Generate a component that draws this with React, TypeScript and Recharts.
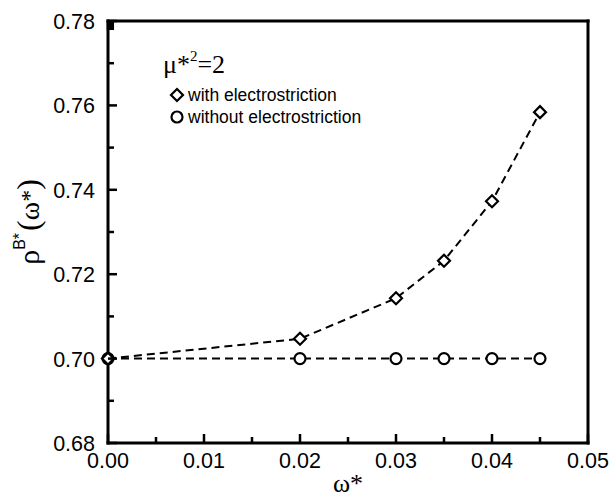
import React from "react";
import { LineChart, Line, XAxis, YAxis, Legend } from "recharts";

// reduced field strength values
const omega = [0, 0.02, 0.03, 0.035, 0.04, 0.045];
// bulk density with and without electrostriction
const withElectro = [0.7, 0.7047, 0.7143, 0.7232, 0.7373, 0.7584];
const withoutElectro = [0.7, 0.7, 0.7, 0.7, 0.7, 0.7];

const xTicks = [0, 0.005, 0.01, 0.015, 0.02, 0.025, 0.03, 0.035, 0.04, 0.045, 0.05];
const yTicks = [0.68, 0.69, 0.7, 0.71, 0.72, 0.73, 0.74, 0.75, 0.76, 0.77, 0.78];

const rows = omega.map((x, i) => ({
  x,
  withE: withElectro[i],
  withoutE: withoutElectro[i],
}));

const SANS = "'Liberation Sans', Arial, sans-serif";
const SERIF = "'Liberation Serif', 'Times New Roman', serif";

const onStep = (v: number, step: number) =>
  Math.abs(v / step - Math.round(v / step)) < 1e-6;

// inward-pointing ticks; labels only on bottom/left majors
const makeTick = (side: "bottom" | "top" | "left" | "right") => (props: any) => {
  const { x, y, payload } = props;
  const v = payload.value as number;
  const major = side === "bottom" || side === "top" ? onStep(v, 0.01) : onStep(v, 0.02);
  const len = major ? 9 : 6;
  let x2 = x;
  let y2 = y;
  if (side === "bottom") y2 = y - len;
  if (side === "top") y2 = y + len;
  if (side === "left") x2 = x + len;
  if (side === "right") x2 = x - len;
  return (
    <g>
      <line x1={x} y1={y} x2={x2} y2={y2} stroke="#000" strokeWidth={2.5} />
      {major && side === "bottom" && (
        <text x={x} y={y + 25} textAnchor="middle" fontFamily={SANS} fontSize={21.5} fill="#000">
          {v.toFixed(2)}
        </text>
      )}
      {major && side === "left" && (
        <text x={x - 13} y={y + 8} textAnchor="end" fontFamily={SANS} fontSize={21.5} fill="#000">
          {v.toFixed(2)}
        </text>
      )}
    </g>
  );
};

const Diamond = (props: any) => {
  const { cx, cy } = props;
  if (cx == null || cy == null) return <g />;
  const r = 6;
  return (
    <path
      d={`M${cx},${cy - r} L${cx + r},${cy} L${cx},${cy + r} L${cx - r},${cy} Z`}
      fill="#fff"
      stroke="#000"
      strokeWidth={2.2}
    />
  );
};

const Ring = (props: any) => {
  const { cx, cy } = props;
  if (cx == null || cy == null) return <g />;
  return <circle cx={cx} cy={cy} r={5.5} fill="#fff" stroke="#000" strokeWidth={2.2} />;
};

const YTitle = (props: any) => {
  const vb = props.viewBox;
  const cx = vb.x + 39;
  const cy = vb.y + vb.height / 2 - 10;
  return (
    <text
      x={cx}
      y={cy}
      transform={`rotate(-90, ${cx}, ${cy})`}
      textAnchor="middle"
      fill="#000"
    >
      <tspan fontFamily={SERIF} fontSize={30}>ρ</tspan>
      <tspan fontFamily={SANS} fontSize={16} dy={-14}>B*</tspan>
      <tspan fontFamily={SERIF} fontSize={32} dy={14} dx={2}>(</tspan>
      <tspan fontFamily={SERIF} fontSize={28}>ω</tspan>
      <tspan fontFamily={SERIF} fontSize={24} dy={-2}>*</tspan>
      <tspan fontFamily={SERIF} fontSize={32} dy={2}>)</tspan>
    </text>
  );
};

const XTitle = (props: any) => {
  const vb = props.viewBox;
  return (
    <text
      x={vb.x + vb.width / 2}
      y={vb.y + 49}
      textAnchor="middle"
      fontFamily={SERIF}
      fontSize={26}
      fill="#000"
    >
      ω*
    </text>
  );
};

const LegendBox = () => (
  <svg width={280} height={90} style={{ display: "block" }}>
    <text x={13} y={33} fontFamily={SERIF} fontSize={26} fill="#000">
      μ*
      <tspan fontSize={15} dy={-12}>2</tspan>
      <tspan dy={12}>=2</tspan>
    </text>
    <Diamond cx={27} cy={55} />
    <text x={38} y={61} fontFamily={SANS} fontSize={17.5} fill="#000">
      with electrostriction
    </text>
    <Ring cx={27} cy={77} />
    <text x={38} y={83} fontFamily={SANS} fontSize={17.5} fill="#000">
      without electrostriction
    </text>
  </svg>
);

const frame = { stroke: "#000", strokeWidth: 3, strokeLinecap: "square" as const };

export default function App() {
  return (
    <div style={{ position: "absolute", left: 0, top: 0, background: "#fff" }}>
      <LineChart
        width={610}
        height={499}
        data={rows}
        margin={{ top: 0, right: 0, bottom: 0, left: 0 }}
      >
        <XAxis
          dataKey="x"
          type="number"
          domain={[0, 0.05]}
          ticks={xTicks}
          interval={0}
          height={56}
          axisLine={frame}
          tickLine={false}
          tickSize={0}
          tickMargin={0}
          tick={makeTick("bottom")}
          label={<XTitle />}
        />
        <XAxis
          xAxisId="top"
          orientation="top"
          type="number"
          domain={[0, 0.05]}
          ticks={xTicks}
          interval={0}
          height={21}
          axisLine={frame}
          tickLine={false}
          tickSize={0}
          tickMargin={0}
          tick={makeTick("top")}
        />
        <YAxis
          type="number"
          domain={[0.68, 0.78]}
          ticks={yTicks}
          interval={0}
          width={108}
          axisLine={frame}
          tickLine={false}
          tickSize={0}
          tickMargin={0}
          tick={makeTick("left")}
          label={<YTitle />}
        />
        <YAxis
          yAxisId="right"
          orientation="right"
          type="number"
          domain={[0.68, 0.78]}
          ticks={yTicks}
          interval={0}
          width={22}
          axisLine={frame}
          tickLine={false}
          tickSize={0}
          tickMargin={0}
          tick={makeTick("right")}
        />
        <Legend
          layout="vertical"
          align="center"
          verticalAlign="middle"
          wrapperStyle={{ left: 150, top: 40, width: 280 }}
          content={() => <LegendBox />}
        />
        <Line
          dataKey="withoutE"
          stroke="#000"
          strokeWidth={2}
          strokeDasharray="8 5"
          dot={(p: any) => <Ring key={`r${p.index}`} {...p} />}
          isAnimationActive={false}
        />
        <Line
          dataKey="withE"
          stroke="#000"
          strokeWidth={2}
          strokeDasharray="8 5"
          dot={(p: any) => <Diamond key={`d${p.index}`} {...p} />}
          isAnimationActive={false}
        />
      </LineChart>
    </div>
  );
}
